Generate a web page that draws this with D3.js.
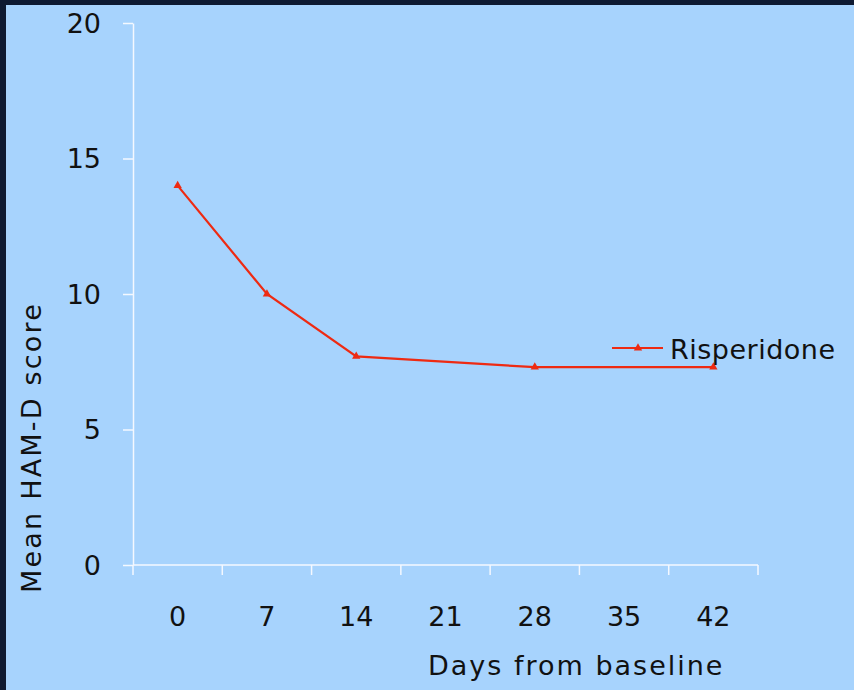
<!DOCTYPE html>
<html lang="en">
<head>
    <meta charset="UTF-8">
    <title>Mean HAM-D score by day</title>
    <script src="https://d3js.org/d3.v7.min.js"></script>
    <style>
        body { margin: 0; background: #0e1a32; }
        text { font-family: "DejaVu Sans", Verdana, sans-serif; fill: #111; }
        .axis path, .axis line { stroke: #f4f8ff; stroke-width: 1.5px; }
    </style>
</head>
<body>
<script>
    const days = ["0", "7", "14", "21", "28", "35", "42"];
    const scoreDays = ["0", "7", "14", "28", "42"];
    const scores = [14, 10, 7.7, 7.3, 7.3];
    const yTicks = [0, 5, 10, 15, 20];
    const seriesName = "Risperidone";

    const width = 854, height = 690;

    const svg = d3.select("body").append("svg")
        .attr("width", width)
        .attr("height", height);

    // panel
    svg.append("rect")
        .attr("x", 6).attr("y", 5)
        .attr("width", width - 6).attr("height", height - 5)
        .attr("fill", "#a7d3fd");

    const x = d3.scaleBand().domain(days).range([133, 758]).padding(0);
    const y = d3.scaleLinear().domain([0, 20]).range([565, 23]);

    // y axis
    const yAxis = svg.append("g")
        .attr("class", "axis")
        .attr("transform", "translate(133,0)")
        .call(d3.axisLeft(y).tickValues(yTicks).tickSize(10).tickSizeOuter(0).tickPadding(22));
    yAxis.selectAll("text").style("font-size", "27px").attr("dy", "0.35em");

    // x axis: ticks between categories
    const xAxis = svg.append("g")
        .attr("class", "axis")
        .attr("transform", "translate(0,565)");
    xAxis.append("line")
        .attr("x1", 133).attr("x2", 758);
    xAxis.selectAll("line.tick")
        .data(days.concat(["end"]))
        .join("line")
        .attr("class", "tick")
        .attr("x1", (d, i) => i < days.length ? x(d) : x(days[days.length - 1]) + x.bandwidth())
        .attr("x2", (d, i) => i < days.length ? x(d) : x(days[days.length - 1]) + x.bandwidth())
        .attr("y1", 0).attr("y2", 10);
    xAxis.selectAll("text")
        .data(days)
        .join("text")
        .attr("x", d => x(d) + x.bandwidth() / 2)
        .attr("y", 61)
        .attr("text-anchor", "middle")
        .style("font-size", "27px")
        .text(d => d);

    // axis titles
    svg.append("text")
        .attr("x", 428).attr("y", 675)
        .style("font-size", "27px")
        .style("letter-spacing", "2px")
        .text("Days from baseline");

    svg.append("text")
        .attr("transform", "translate(41,593) rotate(-90)")
        .style("font-size", "27px")
        .style("letter-spacing", "2.2px")
        .text("Mean HAM-D score");

    // series
    const pts = scoreDays.map((d, i) => ({ day: d, v: scores[i] }));
    const line = d3.line()
        .x(d => x(d.day) + x.bandwidth() / 2)
        .y(d => y(d.v));

    svg.append("path")
        .datum(pts)
        .attr("d", line)
        .attr("fill", "none")
        .attr("stroke", "#ee2a12")
        .attr("stroke-width", 2.2);

    const tri = d3.symbol().type(d3.symbolTriangle).size(30);
    svg.selectAll("path.pt")
        .data(pts)
        .join("path")
        .attr("class", "pt")
        .attr("d", tri)
        .attr("fill", "#ee2a12")
        .attr("transform", d => `translate(${x(d.day) + x.bandwidth() / 2},${y(d.v)})`);

    // legend
    const lg = svg.append("g").attr("transform", "translate(612,348)");
    lg.append("line")
        .attr("x1", 0).attr("x2", 51)
        .attr("stroke", "#ee2a12").attr("stroke-width", 2.2);
    lg.append("path")
        .attr("d", tri)
        .attr("fill", "#ee2a12")
        .attr("transform", "translate(26,0)");
    lg.append("text")
        .attr("x", 58).attr("y", 11)
        .style("font-size", "27px")
        .style("letter-spacing", "0.5px")
        .text(seriesName);
</script>
</body>
</html>
